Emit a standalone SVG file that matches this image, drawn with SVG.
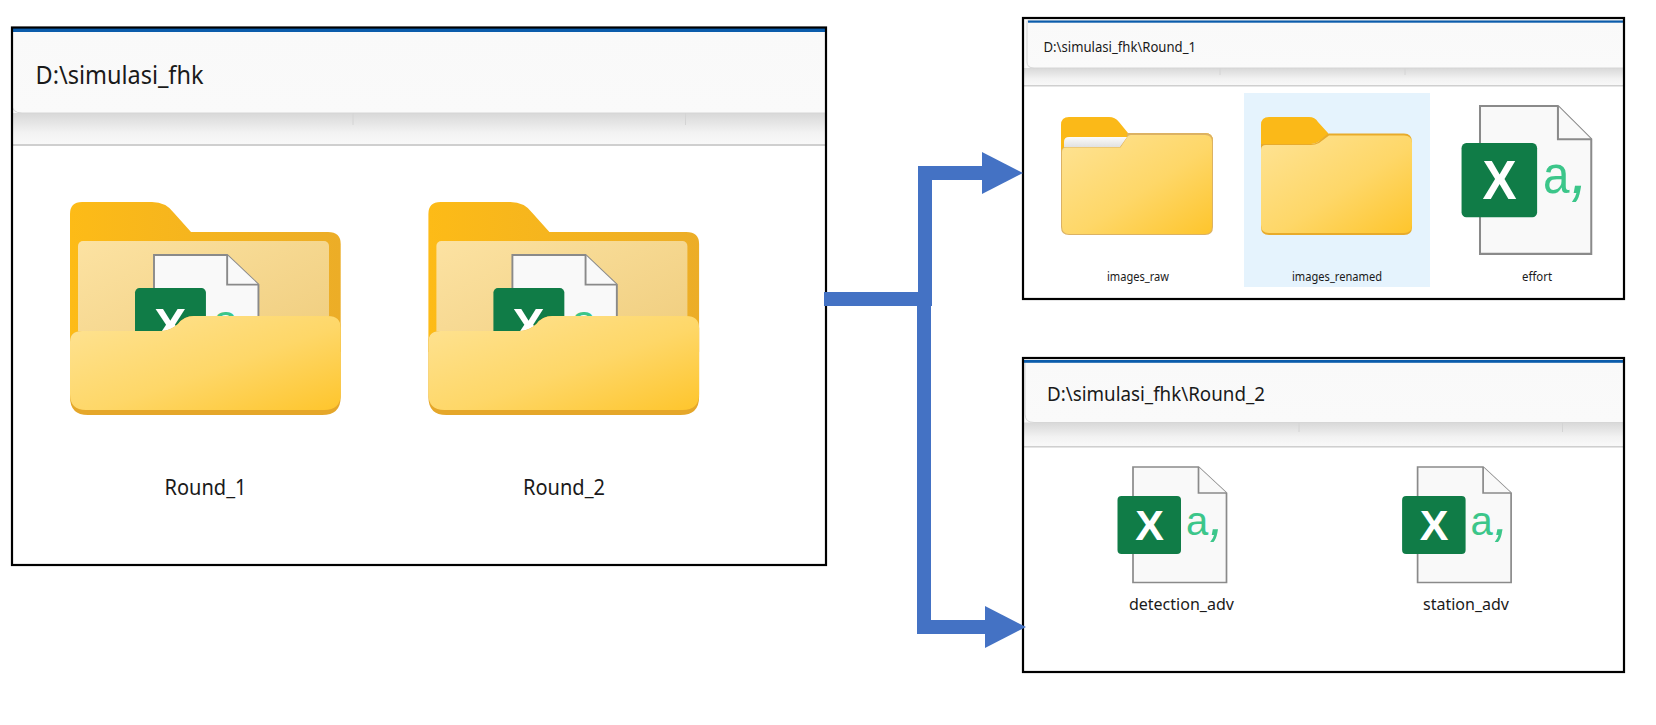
<svg xmlns="http://www.w3.org/2000/svg" xmlns:xlink="http://www.w3.org/1999/xlink" width="1656" height="725" viewBox="0 0 1656 725">
<style>
.ui{font-family:"Noto Sans","Liberation Sans",sans-serif;fill:#1a1a1a}
.frame{fill:none;stroke:#000;stroke-width:2.2}
.bar{fill:#0b5cab}
.title{fill:url(#titleG);stroke:#d6d6d6;stroke-width:1}
.line{fill:#cfcfcf}
.tick{stroke:#d4d4d4;stroke-width:1}
.conn{fill:none;stroke:#4472c4;stroke-width:14}
.head{fill:#4472c4}
.doc{fill:#f9f9f9;stroke:#8a8a8a;stroke-width:1.7}
.xl{font-family:"Liberation Sans",sans-serif;font-size:43px;font-weight:700;fill:#fff}
.al{font-family:"Liberation Sans",sans-serif;font-size:40px;fill:#3cc68a}
.cm{font-size:54px;font-style:italic}
</style>
<defs>
<linearGradient id="titleG" x1="0" y1="0" x2="0" y2="1"><stop offset="0" stop-color="#f9f9f9"/><stop offset="1" stop-color="#fafafa"/></linearGradient>
<linearGradient id="shadowG" x1="0" y1="0" x2="0" y2="1"><stop offset="0" stop-color="#d8d8d8"/><stop offset=".6" stop-color="#f2f2f2"/><stop offset="1" stop-color="#f9f9f9"/></linearGradient>
<linearGradient id="backG" x1="0" y1="0" x2="1" y2="0"><stop offset="0" stop-color="#fdbb17"/><stop offset="1" stop-color="#ecad27"/></linearGradient>
<linearGradient id="paperG" x1="0" y1="0" x2="1" y2="1"><stop offset="0" stop-color="#fce2a2"/><stop offset="1" stop-color="#eecb7a"/></linearGradient>
<linearGradient id="frontG" x1="0" y1="0" x2="1" y2="1"><stop offset="0" stop-color="#fee395"/><stop offset=".55" stop-color="#fed768"/><stop offset="1" stop-color="#fec52c"/></linearGradient>
<linearGradient id="stripG" x1="0" y1="0" x2="0" y2="1"><stop offset="0" stop-color="#fbfbfb"/><stop offset="1" stop-color="#dfdfdf"/></linearGradient>
<g id="sheet">
<path class="doc" d="M0 0H65.500L93.500 26V115.500H0Z"/>
<path class="doc" d="M65.500 0V26H93.500" fill="none"/>
<rect x="-15.500" y="29" width="63.500" height="58" rx="4" fill="#107c47"/>
<text class="xl" x="16.500" y="73" text-anchor="middle">X</text>
<text class="al" x="53" y="68">a<tspan class="cm" dx="1">,</tspan></text>
</g>
<g id="bigFolder">
<path fill="url(#backG)" d="M0 12Q0 0 12 0H82Q96 0 104 11L121 30H258Q270.700 30 270.700 42V150H0Z"/>
<rect x="8" y="39" width="251" height="130" rx="5" fill="url(#paperG)"/>
<g transform="translate(84 53) scale(1.117 1.14)">
<path class="doc" d="M0 0H65.500L93.500 26V115.500H0Z"/>
<path class="doc" d="M65.500 0V26H93.500" fill="none"/>
<rect x="-17" y="29" width="63.500" height="58" rx="4" fill="#107c47"/>
<text class="xl" x="14.500" y="76" text-anchor="middle">X</text>
<text class="al" x="53" y="72">a,</text>
</g>
<path fill="#e5a72a" d="M0 140Q0 129 12 129H92Q100 129 108 122Q114 114 124 114H258Q270.700 114 270.700 126V195Q270.700 213 252 213H18Q0 213 0 195Z"/>
<path fill="url(#frontG)" d="M0 140Q0 129 12 129H92Q100 129 108 122Q114 114 124 114H258Q270.700 114 270.700 126V192Q270.700 208 254 208H16Q0 208 0 192Z"/>
</g>
<marker id="arrow" markerUnits="userSpaceOnUse" markerWidth="42" markerHeight="42" refX="0" refY="21" orient="auto"><path class="head" d="M0 0L41 21L0 42Z"/></marker>
</defs>
<rect width="1656" height="725" fill="#fff"/>

<g id="panel-root">
<rect x="12" y="28" width="814" height="118" fill="#f9f9f9"/>
<rect x="12" y="113" width="814" height="32" fill="url(#shadowG)"/>
<rect class="line" x="12" y="144" width="814" height="2"/>
<path class="title" d="M12 31H826V113H22Q12 113 12 104Z"/>
<line class="tick" x1="353" y1="113" x2="353" y2="125"/>
<line class="tick" x1="685.500" y1="113" x2="685.500" y2="125"/>
<rect class="bar" x="12" y="28" width="814" height="4"/>
<text class="ui" x="35.500" y="83.500" font-size="25" textLength="168" lengthAdjust="spacingAndGlyphs">D:\simulasi_fhk</text>
<rect class="frame" x="12" y="27.500" width="814" height="537.500"/>
</g>
<g id="folder-round-1">
<use href="#bigFolder" transform="translate(70 202)"/>
<text class="ui" x="205.500" y="494.500" font-size="22" text-anchor="middle" textLength="82" lengthAdjust="spacingAndGlyphs">Round_1</text>
</g>
<g id="folder-round-2">
<use href="#bigFolder" transform="translate(428.400 202)"/>
<text class="ui" x="564" y="494.500" font-size="22" text-anchor="middle" textLength="82" lengthAdjust="spacingAndGlyphs">Round_2</text>
</g>

<g id="panel-round-1">
<rect x="1023" y="18" width="601" height="68" fill="#f9f9f9"/>
<rect x="1023" y="68" width="601" height="18" fill="url(#shadowG)"/>
<rect class="line" x="1023" y="85" width="601" height="1.500"/>
<path class="title" d="M1027 21H1624V68H1034Q1027 68 1027 62Z"/>
<line class="tick" x1="1220" y1="68" x2="1220" y2="75"/>
<line class="tick" x1="1405" y1="68" x2="1405" y2="75"/>
<rect class="bar" x="1028" y="20.500" width="596" height="2.200"/>
<text class="ui" x="1043.500" y="52" font-size="14" textLength="152.500" lengthAdjust="spacingAndGlyphs">D:\simulasi_fhk\Round_1</text>
</g>
<g id="item-images-raw">
<path fill="#fbb918" d="M1061 125Q1061 117 1069 117H1109Q1115 117 1119 122L1128 133H1205Q1213 133 1213 141V170H1061Z"/>
<path fill="url(#stripG)" d="M1064 148V142Q1064 137 1069 137H1128L1120 148Z"/>
<path fill="#dcb263" d="M1061 152Q1061 147 1066 147H1120L1127 137V133H1205Q1213 133 1213 141V227Q1213 235 1205 235H1069Q1061 235 1061 227Z"/>
<path fill="url(#frontG)" d="M1062 152Q1062 147.500 1066 147.500H1120.500L1128 136Q1129 135 1131 135H1205Q1212 135 1212 142V226Q1212 234 1205 234H1069Q1062 234 1062 226Z"/>
<text class="ui" x="1138" y="281" font-size="12" text-anchor="middle" textLength="62" lengthAdjust="spacingAndGlyphs">images_raw</text>
</g>
<g id="item-images-renamed">
<rect x="1244" y="93" width="186" height="194" fill="#e5f3fd"/>
<path fill="#fbb918" d="M1261 125Q1261 117 1269 117H1309Q1315 117 1318 122L1328 133V135L1318 142Q1315 144 1311 144H1261Z"/>
<path fill="#e8ab2b" d="M1261 144H1311Q1315 144 1318 142L1328 133.500H1404Q1412 133.500 1412 142V227Q1412 235 1404 235H1269Q1261 235 1261 227Z"/>
<path fill="url(#frontG)" d="M1261 150Q1261 145 1266 145H1311Q1315 145 1319 143L1329 135.500H1404Q1412 135.500 1412 143V225Q1412 233 1404 233H1269Q1261 233 1261 225Z"/>
<text class="ui" x="1337" y="281" font-size="12" text-anchor="middle" textLength="90" lengthAdjust="spacingAndGlyphs">images_renamed</text>
</g>
<g id="item-effort">
<use href="#sheet" transform="translate(1480 106) scale(1.19 1.28)"/>
<text class="ui" x="1537" y="281" font-size="12" text-anchor="middle" textLength="30" lengthAdjust="spacingAndGlyphs">effort</text>
</g>
<rect class="frame" x="1023" y="18" width="601" height="281"/>

<g id="panel-round-2">
<rect x="1023" y="358" width="601" height="90" fill="#f9f9f9"/>
<rect x="1023" y="422.500" width="601" height="24" fill="url(#shadowG)"/>
<rect class="line" x="1023" y="446" width="601" height="1.500"/>
<path class="title" d="M1025 361H1624V422.500H1034Q1025 422.500 1025 414Z"/>
<line class="tick" x1="1299" y1="423" x2="1299" y2="432"/>
<line class="tick" x1="1562.500" y1="423" x2="1562.500" y2="432"/>
<rect class="bar" x="1024" y="360" width="600" height="2.800"/>
<text class="ui" x="1047" y="401" font-size="19" textLength="218" lengthAdjust="spacingAndGlyphs">D:\simulasi_fhk\Round_2</text>
</g>
<g id="item-detection-adv">
<use href="#sheet" transform="translate(1133 467)"/>
<text class="ui" x="1181.400" y="610" font-size="16.500" text-anchor="middle" textLength="105" lengthAdjust="spacingAndGlyphs">detection_adv</text>
</g>
<g id="item-station-adv">
<use href="#sheet" transform="translate(1417.600 467)"/>
<text class="ui" x="1466" y="610" font-size="16.500" text-anchor="middle" textLength="86" lengthAdjust="spacingAndGlyphs">station_adv</text>
</g>
<rect class="frame" x="1023" y="358" width="601" height="314"/>

<g id="connectors">
<path class="conn" d="M824 299H932M925 306V173H982" marker-end="url(#arrow)"/>
<path class="conn" d="M924 299V627H985" marker-end="url(#arrow)"/>
</g>
</svg>
